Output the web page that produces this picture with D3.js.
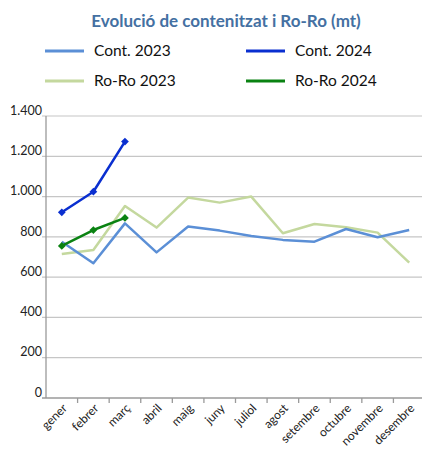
<!DOCTYPE html>
<html lang="ca">
<head>
<meta charset="UTF-8">
<title>Evolució de contenitzat i Ro-Ro</title>
<style>
  body { margin: 0; background: #fff; }
  svg { display: block; }
</style>
</head>
<body>
<svg id="svg" width="422" height="451" font-family="Lato, 'Open Sans', sans-serif"></svg>
<script src="https://d3js.org/d3.v7.min.js"></script>
<script>
var months = ["gener", "febrer", "març", "abril", "maig", "juny", "juliol", "agost", "setembre", "octubre", "novembre", "desembre"];
var cont2023 = [776, 669, 867, 723, 851, 831, 804, 785, 776, 839, 798, 834];
var roro2023 = [715, 735, 953, 846, 995, 970, 1000, 818, 864, 848, 821, 672];
var cont2024 = [922, 1024, 1273];
var roro2024 = [755, 834, 894];
var yTicks = [0, 200, 400, 600, 800, 1000, 1200, 1400];

var series = [
  { name: "Cont. 2023", values: cont2023, color: "#5B8FD6", width: 2.5, marker: false },
  { name: "Cont. 2024", values: cont2024, color: "#0A2FD0", width: 2.5, marker: true },
  { name: "Ro-Ro 2023", values: roro2023, color: "#C4D89E", width: 2.5, marker: false },
  { name: "Ro-Ro 2024", values: roro2024, color: "#0A8212", width: 2.5, marker: true }
];

var svg = d3.select("#svg");
var plotL = 46, plotR = 425, plotT = 116, plotB = 398;

var x = d3.scaleBand().domain(months).range([plotL, plotR]);
var y = d3.scaleLinear().domain([0, 1400]).range([plotB, plotT]);
var fmt = function (d) { return d3.format(",")(d).replace(/,/g, "."); };

// title
svg.append("text")
  .attr("x", 226).attr("y", 27)
  .attr("text-anchor", "middle")
  .attr("font-size", 17).attr("font-weight", "bold")
  .attr("fill", "#4470A2")
  .text("Evolució de contenitzat i Ro-Ro (mt)");

// legend
var legend = svg.append("g").selectAll("g")
  .data(series)
  .enter().append("g")
  .attr("transform", function (d, i) {
    return "translate(" + (i % 2 ? 246 : 45) + "," + (i < 2 ? 51 : 81) + ")";
  });
legend.append("line")
  .attr("x2", 39)
  .attr("stroke", function (d) { return d.color; })
  .attr("stroke-width", 3);
legend.append("text")
  .attr("x", 49).attr("dy", "0.35em")
  .attr("font-size", 15.5).attr("fill", "#111")
  .text(function (d) { return d.name; });

// grid
svg.append("g").selectAll("line")
  .data(yTicks.slice(1))
  .enter().append("line")
  .attr("x1", plotL - 4).attr("x2", plotR)
  .attr("y1", y).attr("y2", y)
  .attr("stroke", "#C6C6C6").attr("stroke-width", 1.2);

svg.append("g").selectAll("text")
  .data(yTicks)
  .enter().append("text")
  .attr("x", plotL - 4).attr("y", y)
  .attr("dy", "-0.1em")
  .attr("text-anchor", "end")
  .attr("font-size", 12.5).attr("fill", "#222")
  .text(fmt);

// axes
svg.append("line")
  .attr("x1", plotL).attr("x2", plotL).attr("y1", plotT).attr("y2", plotB)
  .attr("stroke", "#9A9A9A").attr("stroke-width", 1.3);
svg.append("line")
  .attr("x1", plotL - 4).attr("x2", plotR).attr("y1", plotB).attr("y2", plotB)
  .attr("stroke", "#9A9A9A").attr("stroke-width", 1.3);
svg.append("g").selectAll("line")
  .data(months.slice(1))
  .enter().append("line")
  .attr("x1", function (d) { return x(d); })
  .attr("x2", function (d) { return x(d); })
  .attr("y1", plotB).attr("y2", plotB + 5)
  .attr("stroke", "#9A9A9A").attr("stroke-width", 1.3);

svg.append("g").selectAll("text")
  .data(months)
  .enter().append("text")
  .attr("text-anchor", "end")
  .attr("font-size", 12).attr("fill", "#222")
  .attr("transform", function (d) {
    return "translate(" + (x(d) + x.bandwidth() / 2 + 6) + "," + (plotB + 11) + ")rotate(-45)";
  })
  .text(function (d) { return d; });

// lines
var line = d3.line()
  .x(function (d, i) { return x(months[i]) + x.bandwidth() / 2; })
  .y(function (d) { return y(d); });

var order = [series[2], series[0], series[3], series[1]];
var g = svg.append("g").selectAll("g")
  .data(order)
  .enter().append("g");
g.append("path")
  .attr("fill", "none")
  .attr("stroke", function (d) { return d.color; })
  .attr("stroke-width", function (d) { return d.width; })
  .attr("stroke-linejoin", "round")
  .attr("d", function (d) { return line(d.values); });

// square diamond markers
g.filter(function (d) { return d.marker; })
  .selectAll("path.m")
  .data(function (d) { return d.values.map(function (v, i) { return { v: v, i: i, color: d.color }; }); })
  .enter().append("path")
  .attr("class", "m")
  .attr("d", d3.symbol().type(d3.symbolSquare).size(30))
  .attr("fill", function (d) { return d.color; })
  .attr("transform", function (d) {
    return "translate(" + (x(months[d.i]) + x.bandwidth() / 2) + "," + y(d.v) + ")rotate(45)";
  });
</script>
</body>
</html>
